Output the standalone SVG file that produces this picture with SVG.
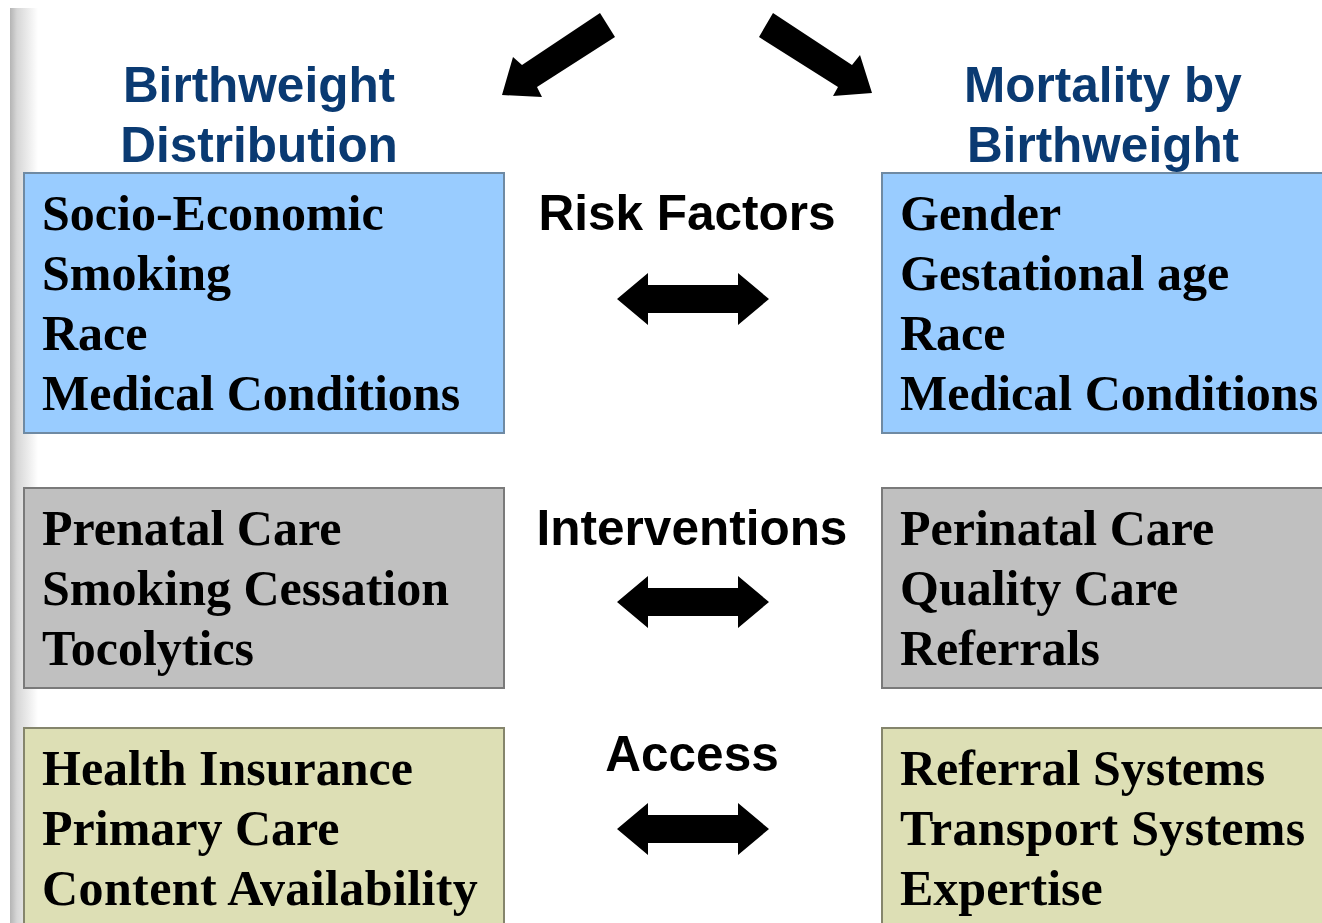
<svg xmlns="http://www.w3.org/2000/svg" width="1322" height="923" viewBox="0 0 1322 923">
  <defs>
    <linearGradient id="edgeShade" x1="0" y1="0" x2="1" y2="0">
      <stop offset="0" stop-color="#b4b4b4"/>
      <stop offset="0.25" stop-color="#d6d6d6"/>
      <stop offset="1" stop-color="#ffffff"/>
    </linearGradient>
    <style>
      .head { font-family: "Liberation Sans", Arial, sans-serif; font-weight: bold; font-size: 49.5px; fill: #0a3a72; text-anchor: middle; }
      .mid { font-family: "Liberation Sans", Arial, sans-serif; font-weight: bold; font-size: 49.5px; fill: #000; text-anchor: middle; }
      .item { font-family: "Liberation Serif", "Times New Roman", serif; font-weight: bold; font-size: 50px; fill: #000; }
      .box { stroke-width: 2; }
      .risk { fill: #99ccff; stroke: #6f8aa3; }
      .care { fill: #c0c0c0; stroke: #7a7a7a; }
      .access { fill: #dddfb5; stroke: #85856c; }
      .arrow { fill: #000; }
    </style>
  </defs>

  <rect x="0" y="0" width="1322" height="923" fill="#ffffff"/>
  <!-- shaded strip along the left margin -->
  <rect x="10" y="8" width="28" height="915" fill="url(#edgeShade)"/>

  <!-- column headings -->
  <g id="heading-left">
    <text class="head" x="259" y="102">Birthweight</text>
    <text class="head" x="259" y="162">Distribution</text>
  </g>
  <g id="heading-right">
    <text class="head" x="1103" y="102">Mortality by</text>
    <text class="head" x="1103" y="162">Birthweight</text>
  </g>

  <!-- row labels -->
  <g id="label-risk"><text class="mid" x="687" y="230">Risk Factors</text></g>
  <g id="label-interventions"><text class="mid" x="692" y="545">Interventions</text></g>
  <g id="label-access"><text class="mid" x="692" y="771">Access</text></g>

  <!-- risk factor boxes -->
  <g id="risk-left">
    <rect class="box risk" x="24" y="173" width="480" height="260"/>
    <text class="item" x="42" y="230">Socio-Economic</text>
    <text class="item" x="42" y="290">Smoking</text>
    <text class="item" x="42" y="350">Race</text>
    <text class="item" x="42" y="410">Medical Conditions</text>
  </g>
  <g id="risk-right">
    <rect class="box risk" x="882" y="173" width="460" height="260"/>
    <text class="item" x="900" y="230">Gender</text>
    <text class="item" x="900" y="290">Gestational age</text>
    <text class="item" x="900" y="350">Race</text>
    <text class="item" x="900" y="410">Medical Conditions</text>
  </g>

  <!-- intervention boxes -->
  <g id="interventions-left">
    <rect class="box care" x="24" y="488" width="480" height="200"/>
    <text class="item" x="42" y="545">Prenatal Care</text>
    <text class="item" x="42" y="605">Smoking Cessation</text>
    <text class="item" x="42" y="665">Tocolytics</text>
  </g>
  <g id="interventions-right">
    <rect class="box care" x="882" y="488" width="460" height="200"/>
    <text class="item" x="900" y="545">Perinatal Care</text>
    <text class="item" x="900" y="605">Quality Care</text>
    <text class="item" x="900" y="665">Referrals</text>
  </g>

  <!-- access boxes -->
  <g id="access-left">
    <rect class="box access" x="24" y="728" width="480" height="220"/>
    <text class="item" x="42" y="785">Health Insurance</text>
    <text class="item" x="42" y="845">Primary Care</text>
    <text class="item" x="42" y="905" letter-spacing="0.4">Content Availability</text>
  </g>
  <g id="access-right">
    <rect class="box access" x="882" y="728" width="460" height="220"/>
    <text class="item" x="900" y="785">Referral Systems</text>
    <text class="item" x="900" y="845" letter-spacing="0.3">Transport Systems</text>
    <text class="item" x="900" y="905">Expertise</text>
  </g>

  <!-- connectors: block arrows -->
  <g id="connectors">
    <polygon class="arrow" points="600,13 615,37 537,87 542,97 502,95 513,57 522,65"/>
    <polygon class="arrow" points="773,13 759,37 838,87 833,96 872,93 860,55 852,65"/>
    <polygon class="arrow" points="617,299 648,273 648,285 738,285 738,273 769,299 738,325 738,313 648,313 648,325"/>
    <polygon class="arrow" points="617,602 648,576 648,588 738,588 738,576 769,602 738,628 738,616 648,616 648,628"/>
    <polygon class="arrow" points="617,829 648,803 648,815 738,815 738,803 769,829 738,855 738,843 648,843 648,855"/>
  </g>
</svg>
